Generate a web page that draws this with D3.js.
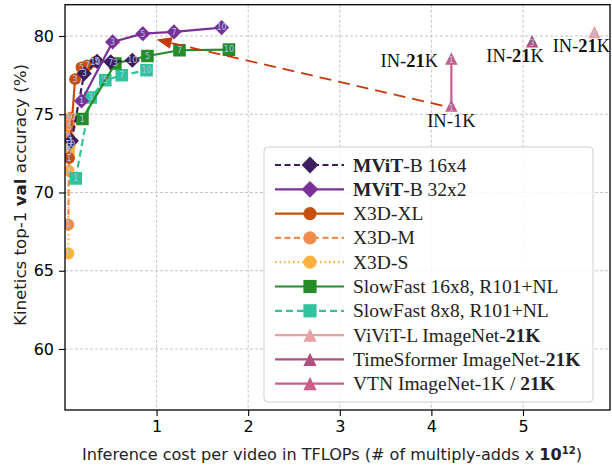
<!DOCTYPE html>
<html>
<head>
<meta charset="utf-8">
<script src="https://cdn.jsdelivr.net/npm/d3@7"></script>
<style>
  body { margin: 0; background: #fff; }
  text { font-family: "DejaVu Sans", sans-serif; }
  .serif { font-family: "Liberation Serif", "Times New Roman", serif; }
</style>
</head>
<body>
<svg id="chart" width="612" height="465"></svg>
<script>
// number of views shown inside each marker
var views = [1, 3, 5, 7, 10];

// values (TFLOPs, top-1 %)
var mvit16x4X = [0.07, 0.21, 0.35, 0.50, 0.735];
var mvit16x4Y = [73.3, 77.6, 78.38, 78.35, 78.45];
var mvit32x2X = [0.18, 0.52, 0.85, 1.19, 1.71];
var mvit32x2Y = [75.85, 79.62, 80.15, 80.26, 80.54];
var x3dXlX = [0.045, 0.11, 0.18, 0.245, 0.33];
var x3dXlY = [72.2, 77.24, 78.0, 78.12, 78.35];
var x3dMX = [0.037, 0.045, 0.052, 0.058, 0.062];
var x3dMY = [67.95, 73.5, 74.15, 74.6, 74.8];
var x3dSX = [0.037, 0.04, 0.046, 0.05, 0.054];
var x3dSY = [66.1, 71.4, 72.55, 72.9, 73.1];
var sf16x8X = [0.19, 0.55, 0.90, 1.25, 1.79];
var sf16x8Y = [74.7, 78.24, 78.72, 79.09, 79.13];
var sf8x8X = [0.117, 0.28, 0.44, 0.62, 0.89];
var sf8x8Y = [70.9, 76.07, 77.17, 77.49, 77.81];

var vivitX = [5.78], vivitY = [80.26], vivitViews = [4];
var timesformerX = [5.1], timesformerY = [79.66], timesformerViews = [3];
var vtnX = [4.218, 4.218], vtnY = [75.55, 78.56], vtnViews = [1, 1];

// annotation labels next to the transformer points
var inLabels = ["IN-**21**K", "IN-**21**K", "IN-**21**K", "IN-1K"];
var inLabelX = [4.218, 5.1, 5.78, 4.218];
var inLabelY = [78.56, 79.66, 80.26, 75.55];

var xTicks = [1, 2, 3, 4, 5];
var yTicks = [60, 65, 70, 75, 80];

// series in legend order
var series = [
  {name: "**MViT**-B 16x4", x: mvit16x4X, y: mvit16x4Y, v: views, color: "#3d1b5c", dash: "6,3.5", shape: "diamond", z: 5},
  {name: "**MViT**-B 32x2", x: mvit32x2X, y: mvit32x2Y, v: views, color: "#7a3197", dash: null, shape: "diamond", z: 6},
  {name: "X3D-XL", x: x3dXlX, y: x3dXlY, v: views, color: "#c5500f", dash: null, shape: "circle", z: 2},
  {name: "X3D-M", x: x3dMX, y: x3dMY, v: views, color: "#f08c50", dash: "6,3.5", shape: "circle", z: 1},
  {name: "X3D-S", x: x3dSX, y: x3dSY, v: views, color: "#fbb040", dash: "1.5,3", shape: "circle", z: 0},
  {name: "SlowFast 16x8, R101+NL", x: sf16x8X, y: sf16x8Y, v: views, color: "#268c28", dash: null, shape: "square", z: 4},
  {name: "SlowFast 8x8, R101+NL", x: sf8x8X, y: sf8x8Y, v: views, color: "#30c39c", dash: "7,4", shape: "square", z: 3},
  {name: "ViViT-L ImageNet-**21K**", x: vivitX, y: vivitY, v: vivitViews, color: "#e8a0a0", dash: null, shape: "triangle", z: 7},
  {name: "TimeSformer ImageNet-**21K**", x: timesformerX, y: timesformerY, v: timesformerViews, color: "#b0507c", dash: null, shape: "triangle", z: 8},
  {name: "VTN ImageNet-1K / **21K**", x: vtnX, y: vtnY, v: vtnViews, color: "#cc5a8c", dash: null, shape: "triangle", z: 9}
];

var svg = d3.select("#chart");

// plot box
var pLeft = 65, pRight = 610, pTop = 4.7, pBottom = 410;

var x = d3.scaleLinear().domain([0, 5.95]).range([pLeft, pRight]);
var y = d3.scaleLinear().domain([56.1, 82]).range([pBottom, pTop]);

svg.append("clipPath").attr("id", "plotClip")
  .append("rect").attr("x", pLeft).attr("y", pTop)
  .attr("width", pRight - pLeft).attr("height", pBottom - pTop);

// grid lines
var grid = svg.append("g");
grid.selectAll(".gx").data(xTicks).enter().append("line")
  .attr("x1", function(d) { return x(d); }).attr("x2", function(d) { return x(d); })
  .attr("y1", pTop).attr("y2", pBottom)
  .attr("stroke", "#c4c4c4").attr("stroke-width", 1).attr("stroke-dasharray", "3,2");
grid.selectAll(".gy").data(yTicks).enter().append("line")
  .attr("x1", pLeft).attr("x2", pRight)
  .attr("y1", function(d) { return y(d); }).attr("y2", function(d) { return y(d); })
  .attr("stroke", "#c4c4c4").attr("stroke-width", 1).attr("stroke-dasharray", "3,2");

// marker shapes, matplotlib style
function shapePath(shape, s) {
  if (shape === "diamond") {
    return "M0," + (-s) + "L" + s + ",0L0," + s + "L" + (-s) + ",0Z";
  }
  if (shape === "square") {
    return "M" + (-s) + "," + (-s) + "h" + (2 * s) + "v" + (2 * s) + "h" + (-2 * s) + "Z";
  }
  if (shape === "triangle") {
    return "M0," + (-s) + "L" + s + "," + s + "L" + (-s) + "," + s + "Z";
  }
  return "M" + s + ",0A" + s + "," + s + " 0 1,1 " + (-s) + ",0A" + s + "," + s + " 0 1,1 " + s + ",0Z";
}
var plotSize = {diamond: 7.6, circle: 5.9, square: 6.3, triangle: 6.2};
var legendSize = {diamond: 8.4, circle: 6.6, square: 6.6, triangle: 6.6};

var plot = svg.append("g").attr("clip-path", "url(#plotClip)");

// red dashed arrow from VTN IN-1K back to the MViT region
var arrowFrom = [x(4.218) - 9, y(75.55)];
var arrowTip = [x(1.0), y(79.77)];
var ang = Math.atan2(arrowTip[1] - arrowFrom[1], arrowTip[0] - arrowFrom[0]);
var headLen = 15, headW = 6;
var headBase = [arrowTip[0] - headLen * Math.cos(ang), arrowTip[1] - headLen * Math.sin(ang)];

var ordered = series.slice().sort(function(a, b) { return a.z - b.z; });
var line = d3.line().x(function(d) { return x(d[0]); }).y(function(d) { return y(d[1]); });

ordered.forEach(function(s) {
  var pts = s.x.map(function(v, i) { return [v, s.y[i]]; });
  var g = plot.append("g");
  if (pts.length > 1) {
    g.append("path").datum(pts).attr("d", line)
      .attr("fill", "none").attr("stroke", s.color).attr("stroke-width", 2.2)
      .attr("stroke-dasharray", s.dash);
  }
  g.selectAll("path.m").data(pts).enter().append("path").attr("class", "m")
    .attr("d", shapePath(s.shape, plotSize[s.shape]))
    .attr("transform", function(d) { return "translate(" + x(d[0]) + "," + y(d[1]) + ")"; })
    .attr("fill", s.color);
  if (s.name.indexOf("VTN") === 0) {
    plot.append("path")
      .attr("d", "M" + arrowFrom[0] + "," + arrowFrom[1] + "L" + headBase[0] + "," + headBase[1])
      .attr("stroke", "#c5380b").attr("stroke-width", 1.8).attr("stroke-dasharray", "12,7")
      .attr("fill", "none");
    plot.append("path")
      .attr("d", "M" + arrowTip[0] + "," + arrowTip[1] +
        "L" + (headBase[0] - headW * Math.sin(ang)) + "," + (headBase[1] + headW * Math.cos(ang)) +
        "L" + (headBase[0] + headW * Math.sin(ang)) + "," + (headBase[1] - headW * Math.cos(ang)) + "Z")
      .attr("fill", "#c5380b");
  }
});

// view counts inside markers
ordered.forEach(function(s) {
  svg.append("g").selectAll("text").data(s.x).enter().append("text")
    .attr("x", function(d) { return x(d); })
    .attr("y", function(d, i) { return y(s.y[i]) + (s.shape === "triangle" ? 2 : 0); })
    .attr("dy", "0.36em")
    .attr("text-anchor", "middle")
    .attr("font-size", 8)
    .attr("fill", "#a9c4ec")
    .text(function(d, i) { return s.v[i]; });
});

// write text with **bold** parts as tspans
function richText(sel, str) {
  str.split("**").forEach(function(part, i) {
    if (part.length) sel.append("tspan").attr("font-weight", i % 2 ? "bold" : null).text(part);
  });
}

// IN-1K / IN-21K annotations: pixel offset of the text baseline centre from the point
var annOffset = [[-42, 8.5], [-17, 20.5], [-13, 20], [0, 21.3]];
inLabels.forEach(function(lbl, i) {
  var t = svg.append("text").attr("class", "serif")
    .attr("x", x(inLabelX[i]) + annOffset[i][0])
    .attr("y", y(inLabelY[i]) + annOffset[i][1])
    .attr("text-anchor", "middle")
    .attr("font-size", 18.5).attr("fill", "#111");
  richText(t, lbl);
});

// axes frame
svg.append("rect").attr("x", pLeft).attr("y", pTop)
  .attr("width", pRight - pLeft).attr("height", pBottom - pTop)
  .attr("fill", "none").attr("stroke", "#000").attr("stroke-width", 1.3);

var xAxis = svg.append("g").attr("transform", "translate(0," + pBottom + ")")
  .call(d3.axisBottom(x).tickValues(xTicks).tickSize(6).tickPadding(5).tickFormat(d3.format("d")));
var yAxis = svg.append("g").attr("transform", "translate(" + pLeft + ",0)")
  .call(d3.axisLeft(y).tickValues(yTicks).tickSize(6).tickPadding(5).tickFormat(d3.format("d")));
[xAxis, yAxis].forEach(function(a) {
  a.select(".domain").remove();
  a.selectAll("text").attr("font-size", 16).attr("font-family", "DejaVu Sans").attr("fill", "#000");
  a.selectAll("line").attr("stroke", "#000").attr("stroke-width", 1.1);
});

// axis titles
var xt = svg.append("text").attr("x", 332).attr("y", 460)
  .attr("text-anchor", "middle").attr("font-size", 16).attr("fill", "#222")
  .attr("textLength", 500).attr("lengthAdjust", "spacingAndGlyphs");
xt.append("tspan").text("Inference cost per video in TFLOPs (# of multiply-adds x ");
xt.append("tspan").attr("font-weight", "bold").text("10");
xt.append("tspan").attr("font-weight", "bold").attr("font-size", 10).attr("dy", -6).text("12");
xt.append("tspan").attr("dy", 6).text(")");

var yt = svg.append("text").attr("transform", "translate(26,195) rotate(-90)")
  .attr("text-anchor", "middle").attr("font-size", 16).attr("fill", "#222")
  .attr("textLength", 262).attr("lengthAdjust", "spacingAndGlyphs");
yt.append("tspan").text("Kinetics top-1 ");
yt.append("tspan").attr("font-weight", "bold").text("val");
yt.append("tspan").text(" accuracy (%)");

// legend
var lg = svg.append("g");
lg.append("rect").attr("x", 264).attr("y", 147).attr("width", 329).attr("height", 255)
  .attr("rx", 4).attr("fill", "#fff").attr("fill-opacity", 0.85)
  .attr("stroke", "#cfcfcf").attr("stroke-width", 1);
series.forEach(function(s, i) {
  var cy = 165 + i * 24.3;
  var row = lg.append("g").attr("transform", "translate(0," + cy + ")");
  row.append("line").attr("x1", 275).attr("x2", 344)
    .attr("stroke", s.color).attr("stroke-width", 2.2).attr("stroke-dasharray", s.dash);
  row.append("path").attr("d", shapePath(s.shape, legendSize[s.shape]))
    .attr("transform", "translate(310,0)").attr("fill", s.color);
  var t = row.append("text").attr("class", "serif").attr("x", 353).attr("y", 6.5)
    .attr("font-size", 19.5).attr("fill", "#222");
  richText(t, s.name);
});
</script>
</body>
</html>
